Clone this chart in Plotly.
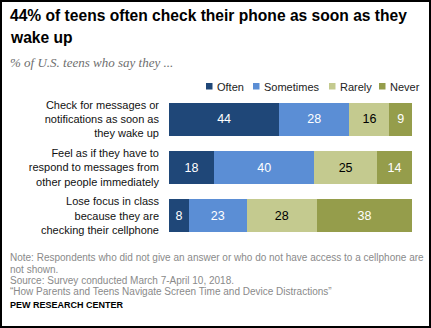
import plotly.graph_objects as go

# Survey items (top to bottom) and response shares
items = [
    "Check for messages or<br>notifications as soon as<br>they wake up",
    "Feel as if they have to<br>respond to messages from<br>other people immediately",
    "Lose focus in class<br>because they are<br>checking their cellphone",
]
often = [44, 18, 8]
sometimes = [28, 40, 23]
rarely = [16, 25, 28]
never = [9, 14, 38]

series_names = ["Often", "Sometimes", "Rarely", "Never"]
series_values = [often, sometimes, rarely, never]
series_colors = ["#1F4778", "#5B8ED5", "#C4CA8F", "#959D4B"]
label_colors = ["white", "white", "black", "white"]

W, H = 431, 328
L, R, T, B = 169, 19, 95, 88
PW, PH = W - L - R, H - T - B


def px_x(px):
    return (px - L) / PW


def px_y(py):
    return (H - B - py) / PH


fig = go.Figure()
for name, vals, col, tcol in zip(series_names, series_values, series_colors, label_colors):
    fig.add_trace(go.Bar(
        y=items, x=vals, name=name, orientation="h",
        marker=dict(color=col, line=dict(width=0)),
        text=[str(v) for v in vals], textposition="inside",
        insidetextanchor="middle", textangle=0, constraintext="none",
        textfont=dict(family="Liberation Sans", size=12.5, color=tcol),
        showlegend=False, hoverinfo="skip",
    ))

annotations = []
shapes = []

# Title, subtitle
title_font = dict(family="Liberation Sans", size=15.6, color="#000000")
annotations.append(dict(text="<b>44% of teens often check their phone as soon as they</b>",
                        x=px_x(8), y=px_y(15), xref="paper", yref="paper",
                        xanchor="left", yanchor="middle", showarrow=False, font=title_font))
annotations.append(dict(text="<b>wake up</b>",
                        x=px_x(8), y=px_y(37), xref="paper", yref="paper",
                        xanchor="left", yanchor="middle", showarrow=False, font=title_font))
annotations.append(dict(text="<i>% of U.S. teens who say they ...</i>",
                        x=px_x(8), y=px_y(62), xref="paper", yref="paper",
                        xanchor="left", yanchor="middle", showarrow=False,
                        font=dict(family="Liberation Serif", size=13, color="#6E6E6E")))

# Compact legend row
legend_sq = [206, 253, 329, 379]
for name, col, sx in zip(series_names, series_colors, legend_sq):
    shapes.append(dict(type="rect", xref="paper", yref="paper",
                       x0=px_x(sx), x1=px_x(sx + 6.5), y0=px_y(89.5), y1=px_y(83),
                       fillcolor=col, line=dict(width=0)))
    annotations.append(dict(text=name, x=px_x(sx + 8.5), y=px_y(86.5), xref="paper", yref="paper",
                            xanchor="left", yanchor="middle", showarrow=False,
                            font=dict(family="Liberation Sans", size=11, color="#222222")))

# Notes and source
note_font = dict(family="Liberation Sans", size=10, color="#8A8A8A")
note_lines = [
    ("Note: Respondents who did not give an answer or who do not have access to a cellphone are", 257),
    ("not shown.", 269),
    ("Source: Survey conducted March 7-April 10, 2018.", 280),
    ("\u201cHow Parents and Teens Navigate Screen Time and Device Distractions\u201d", 291),
]
for txt, py in note_lines:
    annotations.append(dict(text=txt, x=px_x(8), y=px_y(py), xref="paper", yref="paper",
                            xanchor="left", yanchor="middle", showarrow=False, font=note_font))
annotations.append(dict(text="<b>PEW RESEARCH CENTER</b>", x=px_x(8), y=px_y(304.5),
                        xref="paper", yref="paper", xanchor="left", yanchor="middle",
                        showarrow=False,
                        font=dict(family="Liberation Sans", size=9, color="#000000")))

# Frame around the whole graphic
shapes.append(dict(type="rect", xref="paper", yref="paper",
                   x0=px_x(1), x1=px_x(W - 1), y0=px_y(H - 1), y1=px_y(1),
                   line=dict(color="#000000", width=2), fillcolor="rgba(0,0,0,0)"))

fig.update_layout(
    width=W, height=H,
    margin=dict(l=L, r=R, t=T, b=B, pad=0),
    barmode="stack", bargap=0.32,
    plot_bgcolor="white", paper_bgcolor="white",
    xaxis=dict(range=[0, 97], visible=False, fixedrange=True),
    yaxis=dict(categoryorder="array", categoryarray=items[::-1],
               showgrid=False, zeroline=False, showline=False, ticks="",
               ticklabelstandoff=9,
               tickfont=dict(family="Liberation Sans", size=11, color="#111111")),
    annotations=annotations, shapes=shapes,
)

fig.write_html("out.html")
